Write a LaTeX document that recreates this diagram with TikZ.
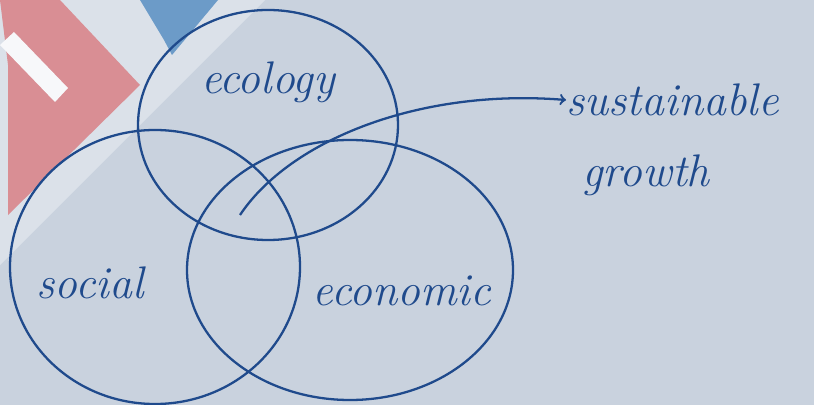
\documentclass[tikz,border=0pt]{standalone}
\usepackage{tikz}
\definecolor{paper}{HTML}{C9D2DE}
\definecolor{ink}{HTML}{1F4A8C}
\definecolor{logored}{HTML}{D9868B}
\definecolor{logoblue}{HTML}{6C9BC8}
\tikzset{
	pen/.style={ink, line width=1.3pt},
	word/.style={ink, font=\fontsize{26}{30}\selectfont\itshape, inner sep=0pt},
	pk/.style={logored, opacity=0.9},
	bl/.style={logoblue},
}

\begin{document}
\begin{tikzpicture}[x=0.02cm, y=-0.02cm]
	\useasboundingbox (0,0) rectangle (814,405);
	\fill [paper] (0,0) rectangle (814,405);

	% logo in the corner
	\fill [white, opacity=0.35] (0,0) -- (265,0) -- (0,265) -- cycle;
	\fill [pk] (0,0) -- (60,0) -- (140,85) -- (8,215) -- (8,65) -- cycle;
	\fill [white!85!paper] (0,45) -- (14,32) -- (68,88) -- (55,102) -- cycle;
	\fill [bl] (140,0) -- (218,0) -- (172,55) -- (164,40) -- cycle;

	% the three sets
	\draw [pen] (268,125) ellipse [x radius=130, y radius=115];
	\draw [pen] (155,267) ellipse [x radius=145, y radius=137];
	\draw [pen] (350,270) ellipse [x radius=163, y radius=130];

	\node [word] (eco) at (268,82) {ecology};
	\node [word] (soc) at (90,283) {social};
	\node [word] (econ) at (402,291) {economic};
	\node [word, anchor=west] (sus) at (566,100) {sustainable};
	\node [word, anchor=west] (gro) at (582,175) {growth};

	\coordinate (mid) at (240,215);
	\draw [pen, ->] (mid) .. controls (290,140) and (420,88) .. (sus.west);
\end{tikzpicture}
\end{document}
